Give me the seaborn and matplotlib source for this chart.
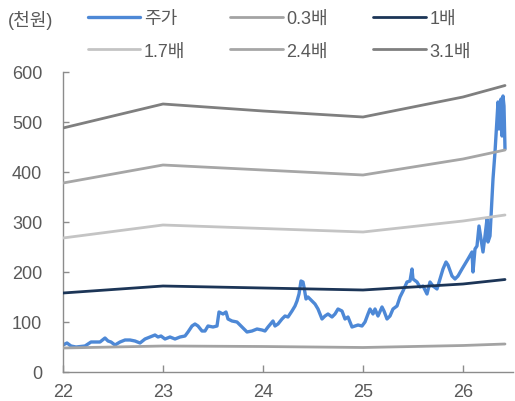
import matplotlib
matplotlib.use("Agg")
import matplotlib.pyplot as plt
import seaborn as sns
import pandas as pd

sns.set_theme(style="white")
plt.rcParams["font.family"] = ["Liberation Sans", "Noto Sans CJK KR"]

# Share price (thousand KRW), x in fractional years (22 = 2022)
price_x = [
    22.00, 22.04, 22.08, 22.13, 22.22, 22.28, 22.32, 22.37, 22.42, 22.45,
    22.48, 22.52, 22.57, 22.62, 22.67, 22.72, 22.77, 22.82, 22.87, 22.92,
    22.95, 22.98, 23.02, 23.07, 23.12, 23.17, 23.22, 23.25, 23.29, 23.32,
    23.35, 23.39, 23.42, 23.45, 23.50, 23.54, 23.56, 23.60, 23.63, 23.65,
    23.69, 23.74, 23.79, 23.84, 23.89, 23.94, 23.99, 24.02, 24.05, 24.10,
    24.12, 24.15, 24.19, 24.22, 24.25, 24.29, 24.32, 24.34, 24.36, 24.38,
    24.40, 24.41, 24.43, 24.45, 24.49, 24.52, 24.55, 24.59, 24.62, 24.65,
    24.69, 24.72, 24.75, 24.79, 24.82, 24.85, 24.89, 24.92, 24.95, 24.99,
    25.02, 25.05, 25.07, 25.10, 25.12, 25.15, 25.19, 25.21, 25.24, 25.27,
    25.30, 25.34, 25.37, 25.40, 25.44, 25.47, 25.49, 25.50, 25.54, 25.57,
    25.60, 25.64, 25.67, 25.70, 25.74, 25.77, 25.80, 25.83, 25.85, 25.89,
    25.92, 25.95, 25.99, 26.02, 26.05, 26.09, 26.10, 26.12, 26.14, 26.16,
    26.18, 26.20, 26.22, 26.24, 26.25, 26.27, 26.29, 26.30, 26.32, 26.34,
    26.35, 26.36, 26.38, 26.39, 26.40, 26.41, 26.42,
]
price_y = [
    54, 58, 52, 50, 52, 60, 60, 60, 68, 62,
    60, 54, 60, 64, 64, 62, 58, 66, 70, 74,
    70, 72, 66, 70, 66, 70, 72, 80, 92, 96,
    92, 82, 82, 92, 90, 92, 120, 116, 120, 106,
    102, 100, 90, 80, 82, 86, 84, 82, 90, 102,
    92, 96, 106, 112, 110, 122, 132, 142, 156, 182,
    180, 170, 146, 150, 142, 136, 126, 106, 112, 116,
    110, 116, 126, 122, 106, 110, 90, 92, 94, 92,
    100, 116, 126, 116, 126, 112, 130, 122, 106, 112,
    126, 132, 150, 162, 180, 182, 206, 186, 180, 170,
    172, 156, 180, 172, 166, 186, 206, 220, 214, 192,
    186, 192, 206, 216, 226, 240, 200, 246, 252, 292,
    266, 240, 272, 306, 260, 272, 346, 386, 440, 506,
    540, 486, 546, 472, 552, 532, 446,
]

# PBR band values
band_x = [22.0, 23.0, 24.0, 25.0, 26.0, 26.42]
band_03 = [48, 52, 51, 49, 53, 56]
band_10 = [158, 172, 168, 164, 176, 185]
band_17 = [268, 294, 287, 280, 302, 314]
band_24 = [378, 414, 404, 394, 426, 444]
band_31 = [488, 536, 522, 510, 550, 573]

year_ticks = [22, 23, 24, 25, 26]
year_labels = ["22", "23", "24", "25", "26"]
value_ticks = [0, 100, 200, 300, 400, 500, 600]

label_price = "주가"
band_labels = ["0.3배", "1배", "1.7배", "2.4배", "3.1배"]
band_values = [band_03, band_10, band_17, band_24, band_31]
band_colors = ["#a3a3a3", "#1c3557", "#c4c4c4", "#a6a6a6", "#7f7f7f"]
price_color = "#4d88d6"
text_color = "#595959"
axis_color = "#8c8c8c"

fig = plt.figure(figsize=(5.15, 4.02), dpi=100)
ax = fig.add_axes([63 / 515, 29 / 402, 450 / 515, 300 / 402])

price_df = pd.DataFrame({"x": price_x, "y": price_y})
sns.lineplot(data=price_df, x="x", y="y", ax=ax, color=price_color,
             linewidth=2.4, label=label_price, zorder=2)

for lab, vals, col in zip(band_labels, band_values, band_colors):
    df = pd.DataFrame({"x": band_x, "y": vals})
    sns.lineplot(data=df, x="x", y="y", ax=ax, color=col, linewidth=2.0,
                 label=lab, zorder=3)

ax.set_xlim(22, 26.5)
ax.set_ylim(0, 600)
ax.set_xticks(year_ticks)
ax.set_xticklabels(year_labels)
ax.set_yticks(value_ticks)
ax.set_xlabel("")
ax.set_ylabel("")

for side in ["top", "right"]:
    ax.spines[side].set_visible(False)
for side in ["left", "bottom"]:
    ax.spines[side].set_color(axis_color)
    ax.spines[side].set_linewidth(1.0)

ax.tick_params(axis="y", direction="in", length=4, width=1, color=axis_color,
               labelsize=13, labelcolor=text_color, pad=15, left=True)
ax.tick_params(axis="x", direction="in", length=5, width=1, color=axis_color,
               labelsize=13, labelcolor=text_color, pad=8, bottom=True)

# Legend in two rows: price + bands
h, l = ax.get_legend_handles_labels()
lookup = dict(zip(l, h))
order = [label_price, "1.7배", "0.3배", "2.4배", "1배", "3.1배"]
ax.get_legend().remove()
leg = fig.legend([lookup[k] for k in order], order, ncol=3,
                 loc="upper left", bbox_to_anchor=(88 / 515, 1 - 11 / 402),
                 frameon=False, fontsize=13, handlelength=2.9,
                 handletextpad=0.2, columnspacing=2.5, labelspacing=0.85,
                 borderpad=0, borderaxespad=0)
for t in leg.get_texts():
    t.set_color(text_color)

fig.text(8 / 515, 1 - 20 / 402, "(천원)", fontsize=13, color=text_color,
         va="center", ha="left")

fig.savefig("out.png", dpi=100)
